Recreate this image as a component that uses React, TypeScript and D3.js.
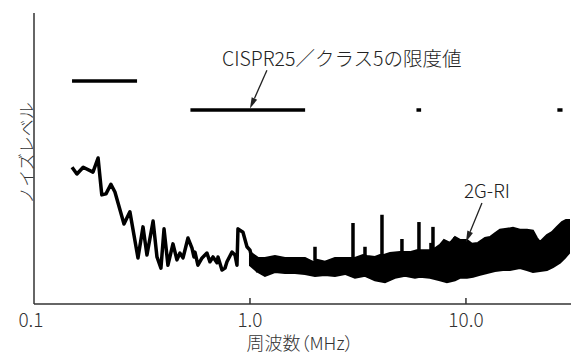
import React from "react";
import * as d3 from "d3";

// CISPR25 class 5 limit segments (MHz / level)
const limitStart = [0.15, 0.53, 5.9, 26.5];
const limitEnd = [0.3, 1.8, 6.2, 28];
const limitLevel = [46, 40, 40, 40];

// 2G-RI noise trace, low-frequency part (single line)
const traceFreq = [
  0.15, 0.158, 0.169, 0.1875, 0.198, 0.206, 0.2154, 0.227, 0.237, 0.261,
  0.278, 0.303, 0.3197, 0.3334, 0.356, 0.371, 0.387, 0.4, 0.417, 0.44,
  0.459, 0.474, 0.4897, 0.5164, 0.5389, 0.5503, 0.5563, 0.574, 0.6, 0.632,
  0.6527, 0.6743, 0.7035, 0.7111, 0.742, 0.7662, 0.7825, 0.8254, 0.8524, 0.8706,
  0.8799, 0.928, 0.9685, 1.0, 1.033, 1.089,
];
const traceLevel = [
  28.2, 26.8, 28.2, 27.2, 30.1, 22.5, 22.7, 24.7, 23.1, 16.5,
  19.0, 9.5, 15.9, 10.1, 17.1, 9.7, 7.4, 15.5, 8.0, 12.4,
  9.1, 10.5, 9.5, 13.6, 11.5, 9.7, 10.7, 8.0, 9.5, 10.5,
  8.7, 9.7, 8.5, 9.7, 7.0, 7.4, 8.7, 10.7, 10.1, 8.0,
  15.5, 14.8, 11.8, 11.1, 8.5, 6.6,
];

// dense part above 1 MHz: upper and lower envelope of the trace
const upperFreq = [
  1.0, 1.089, 1.173, 1.305, 1.452, 1.616, 1.798, 1.957, 2.043,
  2.225, 2.474, 2.754, 2.935, 3.063, 3.336, 3.482, 3.79,
  3.999, 4.174, 4.448, 4.948, 5.164, 5.503, 5.931,
  6.19, 6.597, 6.887, 7.188, 7.579, 7.91, 8.433, 8.895, 9.38,
  10.11, 10.66, 11.36, 12.25, 12.92, 13.62, 14.37, 15.48, 16.51, 17.78,
  19.16, 20.43, 21.32, 22.01, 22.97, 23.71, 25.01, 26.38, 27.83, 29.04, 30,
];
const upperLevel = [
  10.7, 9.5, 9.5, 9.9, 9.5, 9.5, 9.5, 8.7, 9.1,
  8.7, 9.5, 9.5, 9.5, 9.5, 10.1, 9.9, 9.7,
  10.1, 10.1, 10.5, 10.7, 10.7, 10.7, 11.1,
  11.1, 11.1, 11.1, 11.5, 12.2, 13.2, 12.6, 13.8, 13.2,
  13.2, 12.4, 12.6, 13.6, 13.8, 14.6, 15.3, 15.5, 15.7, 15.3,
  15.3, 15.1, 13.6, 12.8, 13.6, 14.2, 14.8, 15.9, 16.9, 17.3, 17.3,
];
const lowerFreq = [
  1.0, 1.089, 1.173, 1.305, 1.452, 1.616, 1.798, 2.0, 2.225, 2.474,
  2.754, 3.063, 3.408, 3.79, 4.217, 4.692, 5.22, 5.806, 6.124, 6.812,
  7.579, 8.166, 8.895, 9.38, 10.11, 10.78, 11.61, 12.51, 13.62, 14.84,
  15.98, 17.78, 19.16, 20.43, 22.01, 23.71, 25.28, 27.24, 28.73, 30,
];
const lowerLevel = [
  8.0, 6.6, 5.8, 6.6, 6.4, 6.4, 6.2, 5.8, 6.0, 5.8,
  6.2, 5.4, 5.8, 4.9, 4.5, 5.4, 5.8, 5.4, 5.6, 5.4,
  4.9, 4.5, 4.9, 5.4, 5.4, 5.6, 6.0, 6.4, 6.8, 7.0,
  7.0, 7.4, 7.0, 6.6, 6.8, 7.0, 7.6, 8.5, 9.5, 10.5,
];

// narrow spikes sticking out of the band
const spikeFreq = [2.0, 2.999, 3.408, 4.085, 5.054, 6.059, 6.887, 7.036, 8.895];
const spikeLevel = [11.8, 16.7, 11.8, 18.4, 13.4, 16.9, 12.6, 15.9, 13.8];

const xTicks = [0.1, 1, 10];
const xTickLabels = ["0.1", "1.0", "10.0"];

const width = 574;
const height = 354;
const font = "'Noto Sans CJK JP', 'Noto Sans', sans-serif";

export default function App() {
  const x = d3.scaleLog().domain([0.1, 30]).range([34, 569]);
  const y = d3.scaleLinear().domain([0, 60]).range([304, 13]);

  const line = d3
    .line<[number, number]>()
    .x((d) => x(d[0]))
    .y((d) => y(d[1]));

  const tracePts = traceFreq.map((f, i) => [f, traceLevel[i]] as [number, number]);
  const bandPts = [
    ...upperFreq.map((f, i) => [f, upperLevel[i]] as [number, number]),
    ...lowerFreq.map((f, i) => [f, lowerLevel[i]] as [number, number]).reverse(),
  ];

  // annotation arrows in data space: [tailF, tailL, tipF, tipL]
  const arrows = [
    [1.198, 48.2, 1.0, 40.3],
    [11.86, 20.8, 10.0, 12.8],
  ];

  return (
    <div style={{ position: "absolute", left: 0, top: 0 }}>
      <svg width={width} height={height} style={{ display: "block", background: "#fff" }}>
        {/* axes */}
        <line x1={34} x2={34} y1={13} y2={304} stroke="#333" strokeWidth={1.5} />
        <line x1={34} x2={571} y1={304} y2={304} stroke="#333" strokeWidth={1.5} />
        {xTicks.map((t, i) => (
          <g key={i}>
            {i > 0 && <line x1={x(t)} x2={x(t)} y1={298} y2={304} stroke="#333" strokeWidth={1.5} />}
            <text
              x={x(t) - (i === 0 ? 3 : 0)}
              y={327}
              textAnchor="middle"
              fontFamily={font}
              fontWeight={300}
              fontSize={19}
              fill="#333"
            >
              {xTickLabels[i]}
            </text>
          </g>
        ))}
        <text
          x={300}
          y={350}
          textAnchor="middle"
          fontFamily={font}
          fontWeight={300}
          fontSize={18}
          fill="#333"
          style={{ fontFeatureSettings: "'palt'" }}
        >
          周波数（MHz）
        </text>
        <text
          transform="translate(25,153) rotate(-90)"
          textAnchor="middle"
          dominantBaseline="central"
          fontFamily={font}
          fontWeight={300}
          fontSize={17}
          fill="#333"
        >
          ノイズレベル
        </text>

        {/* limit lines */}
        {limitStart.map((s, i) => (
          <line
            key={i}
            x1={x(s)}
            x2={x(limitEnd[i])}
            y1={y(limitLevel[i])}
            y2={y(limitLevel[i])}
            stroke="#000"
            strokeWidth={3.5}
          />
        ))}

        {/* noise trace */}
        <path d={line(tracePts) ?? ""} fill="none" stroke="#000" strokeWidth={3.5} strokeLinejoin="round" />
        <path d={(line(bandPts) ?? "") + "Z"} fill="#000" stroke="#000" strokeWidth={2} strokeLinejoin="miter" />
        {spikeFreq.map((f, i) => (
          <line key={i} x1={x(f)} x2={x(f)} y1={y(9)} y2={y(spikeLevel[i])} stroke="#000" strokeWidth={3.5} />
        ))}

        {/* annotations */}
        {arrows.map((a, i) => {
          const x1 = x(a[0]);
          const y1 = y(a[1]);
          const x2 = x(a[2]);
          const y2 = y(a[3]);
          const ang = Math.atan2(y2 - y1, x2 - x1);
          const len = 11;
          const w = 3;
          const bx = x2 - len * Math.cos(ang);
          const by = y2 - len * Math.sin(ang);
          const px = -Math.sin(ang) * w;
          const py = Math.cos(ang) * w;
          return (
            <g key={i}>
              <line x1={x1} y1={y1} x2={bx} y2={by} stroke="#222" strokeWidth={1.3} />
              <polygon
                points={`${x2},${y2} ${bx + px},${by + py} ${bx - px},${by - py}`}
                fill="#222"
              />
            </g>
          );
        })}
        <text x={x(0.742)} y={y(49.1)} fontFamily={font} fontWeight={300} fontSize={19.5} fill="#222">
          CISPR25／クラス5の限度値
        </text>
        <text x={x(12.5)} y={y(21.9)} textAnchor="middle" fontFamily={font} fontWeight={300} fontSize={19} fill="#222">
          2G-RI
        </text>
      </svg>
    </div>
  );
}
